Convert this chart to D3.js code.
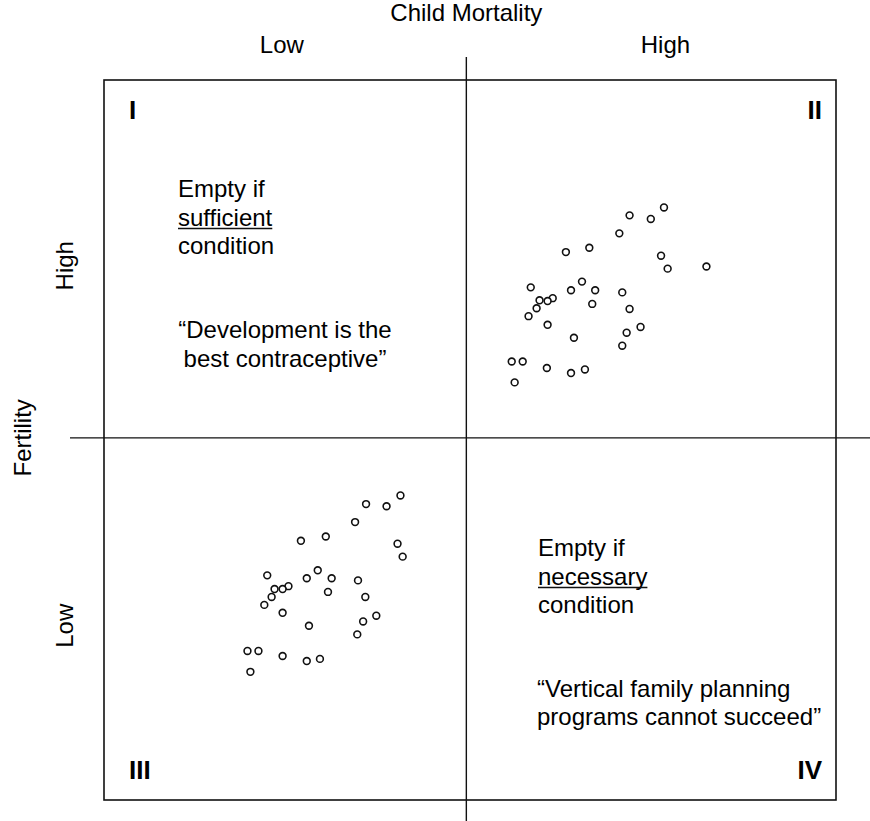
<!DOCTYPE html>
<html>
<head>
<meta charset="utf-8">
<script src="https://cdn.jsdelivr.net/npm/d3@7"></script>
<style>
  body { margin: 0; background: #fff; }
  text { font-family: "Liberation Sans", Arial, Helvetica, sans-serif; fill: #000; }
</style>
</head>
<body>
<div id="chart"></div>
<script>
// Child mortality (x) vs fertility (y), both on a 0-100 index
const mortalityLabels = ["Low", "High"];
const fertilityLabels = ["Low", "High"];
const quadrantNumerals = ["I", "II", "III", "IV"];
const mortalitySplit = 49.5;
const fertilitySplit = 50.3;

// quadrant II countries: [mortality, fertility]
const highHigh = [
  [76.5, 82.3], [71.8, 81.2], [74.7, 80.7], [70.4, 78.7], [66.3, 76.7], [63.1, 76.1],
  [76.1, 75.6], [77.0, 73.8], [82.3, 74.1], [65.3, 72.0], [58.3, 71.2], [63.8, 70.8],
  [67.1, 70.8], [70.8, 70.5], [61.3, 69.7], [59.5, 69.4], [60.6, 69.3], [66.7, 68.9],
  [59.1, 68.3], [71.8, 68.2], [58.0, 67.2], [60.6, 66.0], [73.3, 65.7], [71.4, 64.9],
  [64.2, 64.2], [70.8, 63.1], [55.7, 60.9], [57.2, 60.9], [60.5, 60.0], [65.7, 59.8],
  [63.8, 59.3], [56.1, 58.0]
];

// quadrant III countries
const lowLow = [
  [40.5, 42.3], [35.8, 41.1], [38.6, 40.8], [34.3, 38.6], [30.3, 36.6], [26.9, 36.0],
  [40.1, 35.6], [40.8, 33.8], [29.2, 31.9], [22.3, 31.2], [27.7, 30.8], [31.1, 30.8],
  [34.7, 30.5], [25.2, 29.7], [23.3, 29.3], [24.4, 29.3], [30.6, 28.9], [22.9, 28.2],
  [35.7, 28.2], [21.9, 27.1], [24.4, 26.0], [37.2, 25.6], [35.4, 24.8], [28.0, 24.2],
  [34.6, 23.0], [19.6, 20.7], [21.1, 20.7], [24.4, 20.0], [29.5, 19.6], [27.7, 19.3],
  [20.0, 17.8]
];

const svgWidth = 870, svgHeight = 821;
const frame = {left: 104, right: 836, top: 80, bottom: 800};

const svg = d3.select("#chart").append("svg")
  .attr("width", svgWidth)
  .attr("height", svgHeight);

const x = d3.scaleLinear().domain([0, 100]).range([frame.left, frame.right]);
const y = d3.scaleLinear().domain([0, 100]).range([frame.bottom, frame.top]);

// outer box
svg.append("rect")
  .attr("x", x(0)).attr("y", y(100))
  .attr("width", x(100) - x(0)).attr("height", y(0) - y(100))
  .attr("fill", "none").attr("stroke", "#111").attr("stroke-width", 1.6);

// dividers run past the box
svg.append("line")
  .attr("x1", x(mortalitySplit)).attr("x2", x(mortalitySplit))
  .attr("y1", 57).attr("y2", svgHeight)
  .attr("stroke", "#111").attr("stroke-width", 1.4);
svg.append("line")
  .attr("x1", 70).attr("x2", svgWidth)
  .attr("y1", y(fertilitySplit)).attr("y2", y(fertilitySplit))
  .attr("stroke", "#111").attr("stroke-width", 1.4);

// axis titles
svg.append("text")
  .attr("x", x(mortalitySplit)).attr("y", 21)
  .attr("text-anchor", "middle").attr("font-size", 24)
  .text("Child Mortality");

svg.selectAll(".mlab").data(mortalityLabels).enter().append("text")
  .attr("class", "mlab")
  .attr("x", (d, i) => x(i === 0 ? 24.3 : 76.7))
  .attr("y", 53)
  .attr("text-anchor", "middle").attr("font-size", 24)
  .text(d => d);

svg.append("text")
  .attr("transform", "translate(31," + y(fertilitySplit) + ") rotate(-90)")
  .attr("text-anchor", "middle").attr("font-size", 24)
  .text("Fertility");

svg.selectAll(".flab").data(fertilityLabels).enter().append("text")
  .attr("class", "flab")
  .attr("transform", (d, i) => "translate(73," + y(i === 0 ? 24.2 : 74.2) + ") rotate(-90)")
  .attr("text-anchor", "middle").attr("font-size", 24)
  .text(d => d);

// roman numerals in the corners
const numeralPos = [
  {x: 129, y: 119, anchor: "start"},
  {x: 822, y: 119, anchor: "end"},
  {x: 129, y: 779, anchor: "start"},
  {x: 822, y: 779, anchor: "end"}
];
svg.selectAll(".num").data(quadrantNumerals).enter().append("text")
  .attr("class", "num")
  .attr("x", (d, i) => numeralPos[i].x)
  .attr("y", (d, i) => numeralPos[i].y)
  .attr("text-anchor", (d, i) => numeralPos[i].anchor)
  .attr("font-size", 26).attr("font-weight", "bold")
  .text(d => d);

// helper to write a block of lines, optionally underlining one
function block(lines, x0, y0, lh, anchor, underlineIdx) {
  lines.forEach(function(str, i) {
    const t = svg.append("text")
      .attr("x", x0).attr("y", y0 + i * lh)
      .attr("text-anchor", anchor).attr("font-size", 24)
      .text(str);
    if (i === underlineIdx) {
      const w = t.node().getComputedTextLength();
      svg.append("line")
        .attr("x1", x0).attr("x2", x0 + w)
        .attr("y1", y0 + i * lh + 3).attr("y2", y0 + i * lh + 3)
        .attr("stroke", "#111").attr("stroke-width", 1.5);
    }
  });
}

block(["Empty if", "sufficient", "condition"], 178, 197, 28.5, "start", 1);
block(["\u201CDevelopment is the", "best contraceptive\u201D"], 285, 338, 28.5, "middle", -1);
block(["Empty if", "necessary", "condition"], 538, 556, 28.5, "start", 1);
block(["\u201CVertical family planning", "programs cannot succeed\u201D"], 537, 697, 28, "start", -1);

// country points
const pts = highHigh.concat(lowLow);
svg.selectAll(".dot").data(pts).enter().append("circle")
  .attr("class", "dot")
  .attr("cx", d => x(d[0]))
  .attr("cy", d => y(d[1]))
  .attr("r", 3.4)
  .attr("fill", "#fff")
  .attr("stroke", "#111")
  .attr("stroke-width", 1.6);
</script>
</body>
</html>
